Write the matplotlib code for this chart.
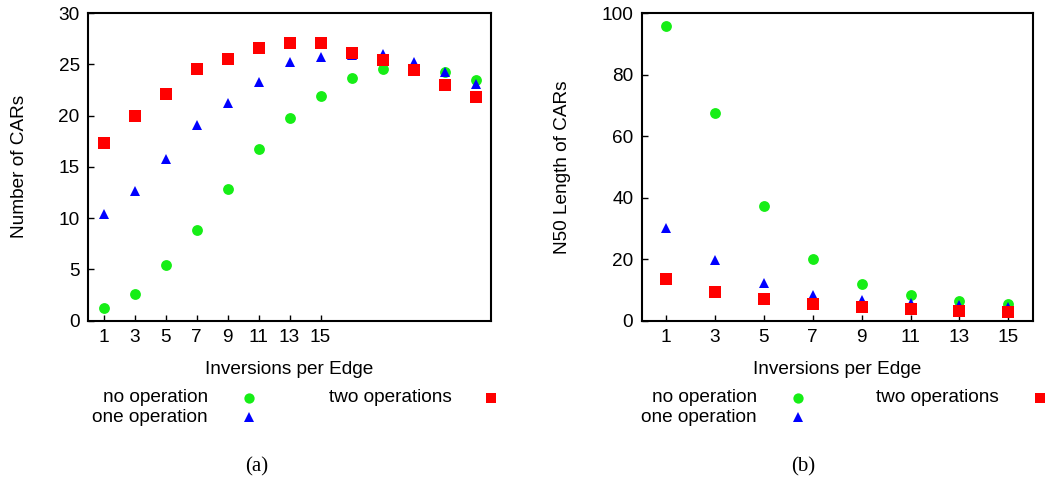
import matplotlib
matplotlib.use("Agg")
import matplotlib.pyplot as plt
from matplotlib.lines import Line2D

plt.rcParams['font.family'] = ['Liberation Sans', 'DejaVu Sans']

# ---- data ----
x_a = [1, 3, 5, 7, 9, 11, 13, 15, 17, 19, 21, 23, 25]
a_none = [1.2, 2.6, 5.4, 8.8, 12.8, 16.7, 19.8, 21.9, 23.7, 24.5, 24.4, 24.2, 23.5]
a_one = [10.4, 12.6, 15.8, 19.1, 21.25, 23.3, 25.2, 25.7, 25.9, 26.0, 25.2, 24.2, 23.1]
a_two = [17.3, 19.95, 22.15, 24.5, 25.55, 26.6, 27.1, 27.1, 26.1, 25.4, 24.4, 23.0, 21.8]

x_b = [1, 3, 5, 7, 9, 11, 13, 15]
b_none = [95.7, 67.5, 37.2, 20.2, 12.0, 8.2, 6.4, 5.3]
b_one = [30.2, 19.7, 12.4, 8.4, 6.7, 5.7, 5.0, 4.6]
b_two = [13.4, 9.2, 6.9, 5.3, 4.3, 3.7, 3.2, 2.9]

xticks = [1, 3, 5, 7, 9, 11, 13, 15]
yticks_a = [0, 5, 10, 15, 20, 25, 30]
yticks_b = [0, 20, 40, 60, 80, 100]
labels = ["no operation", "one operation", "two operations"]
xlabel = "Inversions per Edge"
ylabel_a = "Number of CARs"
ylabel_b = "N50 Length of CARs"
captions = ["(a)", "(b)"]

GREEN = '#16ee16'
BLUE = '#0000ff'
RED = '#ff0000'
styles = [('o', GREEN, 7.8), ('^', BLUE, 7.0), ('s', RED, 8.2)]
FS = 13.7

W, H = 1049, 482
fig = plt.figure(figsize=(W / 100, H / 100), dpi=100)

ax_a = fig.add_axes([88 / W, 1 - 320.7 / H, (491 - 88) / W, (320.7 - 13) / H])
ax_b = fig.add_axes([641.7 / W, 1 - 320.7 / H, (1032.7 - 641.7) / W, (320.7 - 13) / H])

def draw(ax, x, series, xlim, ylim, yticks, ylabel, ylab_x):
    for (m, c, s), y in zip(styles, series):
        ax.plot(x, y, linestyle='none', marker=m, color=c, markersize=s,
                markeredgewidth=0, clip_on=False)
    ax.set_xlim(*xlim)
    ax.set_ylim(*ylim)
    ax.set_xticks(xticks)
    ax.set_yticks(yticks)
    ax.tick_params(direction='in', length=4, width=1, labelsize=FS,
                   top=False, right=False, pad=6, colors='black')
    for sp in ax.spines.values():
        sp.set_linewidth(1.5)
    ax.set_xlabel(xlabel, fontsize=FS, labelpad=11)
    ax.set_ylabel(ylabel, fontsize=FS)
    ax.yaxis.set_label_coords(ylab_x, 0.5)

draw(ax_a, x_a, [a_none, a_one, a_two], (0, 26), (0, 30), yticks_a, ylabel_a,
     (28 - 88) / 403)
draw(ax_b, x_b, [b_none, b_one, b_two], (0, 16), (0, 100), yticks_b, ylabel_b,
     (571 - 641.7) / 391)

# ---- legends (manual, gnuplot style: text right-aligned, marker after) ----
def legend(entries):
    for (txt_right, mx, y, idx) in entries:
        fig.text(txt_right / W, 1 - y / H, labels[idx], ha='right', va='center',
                 fontsize=FS)
        m, c, s = styles[idx]
        fig.add_artist(Line2D([mx / W], [1 - y / H], transform=fig.transFigure,
                              marker=m, color=c, markersize=s * 0.95,
                              markeredgewidth=0, linestyle='none'))

legend([(208, 249, 398, 0), (208, 249, 417, 1), (452, 491, 398, 2)])
legend([(757, 798, 398, 0), (757, 798, 417, 1), (999, 1040, 398, 2)])

fig.text(257 / W, 1 - 467 / H, captions[0], ha='center', va='center',
         fontsize=15, family=['Liberation Serif', 'DejaVu Serif'])
fig.text(803 / W, 1 - 467 / H, captions[1], ha='center', va='center',
         fontsize=15, family=['Liberation Serif', 'DejaVu Serif'])

fig.savefig("out.png", dpi=100)
